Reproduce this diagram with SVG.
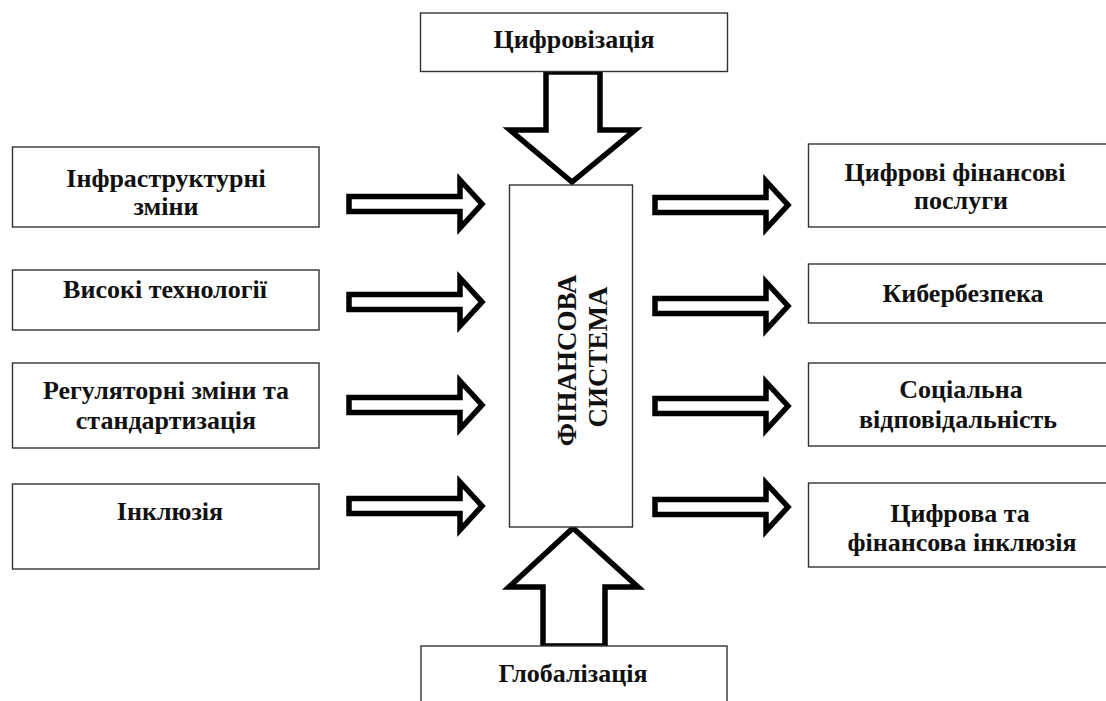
<svg xmlns="http://www.w3.org/2000/svg" width="1106" height="701" viewBox="0 0 1106 701">
  <style>
    .box { fill: #ffffff; stroke: #333333; stroke-width: 1.4; }
    .arrow { fill: #ffffff; stroke: #000000; stroke-width: 5.5; stroke-linejoin: miter; stroke-miterlimit: 10; }
    text { font-family: 'Liberation Serif', 'DejaVu Serif', serif; font-weight: 700; font-size: 26px; fill: #111111; text-anchor: middle; }
    .core { font-size: 27px; }
  </style>
  <defs>
    <!-- block arrow pointing right, origin at shaft start / centre line -->
    <polygon id="rarrow" points="0,-7.5 111,-7.5 111,-24 133,0 111,24 111,7.5 0,7.5"/>
  </defs>
  <rect width="1106" height="701" fill="#ffffff"/>

  <!-- connectors -->
  <g id="connectors">
    <!-- top input -->
    <polygon class="arrow" points="546,72 600,72 600,130 635,130 572,182 510,130 546,130"/>
    <!-- bottom input -->
    <polygon class="arrow" points="543,646 605,646 605,587 638,587 573,528 509,587 543,587"/>
    <!-- left inputs -->
    <use href="#rarrow" class="arrow" x="349" y="204"/>
    <use href="#rarrow" class="arrow" x="349" y="302"/>
    <use href="#rarrow" class="arrow" x="349" y="405"/>
    <use href="#rarrow" class="arrow" x="349" y="506"/>
    <!-- right outputs -->
    <use href="#rarrow" class="arrow" x="655" y="205"/>
    <use href="#rarrow" class="arrow" x="655" y="306"/>
    <use href="#rarrow" class="arrow" x="655" y="406"/>
    <use href="#rarrow" class="arrow" x="655" y="507"/>
  </g>

  <!-- central node -->
  <g id="financial-system">
    <rect class="box" x="509.5" y="185" width="123" height="342"/>
    <text class="core" transform="translate(576 357) rotate(-90)">
      <tspan x="0" y="0">ФІНАНСОВА</tspan>
      <tspan x="0" y="31">СИСТЕМА</tspan>
    </text>
  </g>

  <!-- top / bottom drivers -->
  <g id="digitalization">
    <rect class="box" x="420.5" y="13" width="307" height="58.5"/>
    <text x="574" y="48">Цифровізація</text>
  </g>
  <g id="globalization">
    <rect class="box" x="421" y="646" width="306" height="70"/>
    <text x="573" y="682">Глобалізація</text>
  </g>

  <!-- left drivers -->
  <g id="infrastructure">
    <rect class="box" x="12.5" y="147" width="306.5" height="80"/>
    <text x="166" y="187">Інфраструктурні</text>
    <text x="166" y="215">зміни</text>
  </g>
  <g id="high-tech">
    <rect class="box" x="12.5" y="270" width="306.5" height="60"/>
    <text x="165" y="298">Високі технології</text>
  </g>
  <g id="regulation">
    <rect class="box" x="12.5" y="363" width="306.5" height="85"/>
    <text x="166" y="399">Регуляторні зміни та</text>
    <text x="166" y="429">стандартизація</text>
  </g>
  <g id="inclusion">
    <rect class="box" x="12.5" y="484" width="306.5" height="85"/>
    <text x="170" y="520">Інклюзія</text>
  </g>

  <!-- right outcomes -->
  <g id="digital-services">
    <rect class="box" x="808.5" y="144" width="310" height="83"/>
    <text x="955" y="181">Цифрові фінансові</text>
    <text x="961" y="209">послуги</text>
  </g>
  <g id="cybersecurity">
    <rect class="box" x="808.5" y="264" width="310" height="59"/>
    <text x="963" y="302">Кибербезпека</text>
  </g>
  <g id="social-responsibility">
    <rect class="box" x="808.5" y="363" width="310" height="83"/>
    <text x="961" y="398">Соціальна</text>
    <text x="958" y="428">відповідальність</text>
  </g>
  <g id="digital-inclusion">
    <rect class="box" x="808.5" y="483" width="310" height="84"/>
    <text x="960" y="522">Цифрова та</text>
    <text x="962" y="551">фінансова інклюзія</text>
  </g>
</svg>
